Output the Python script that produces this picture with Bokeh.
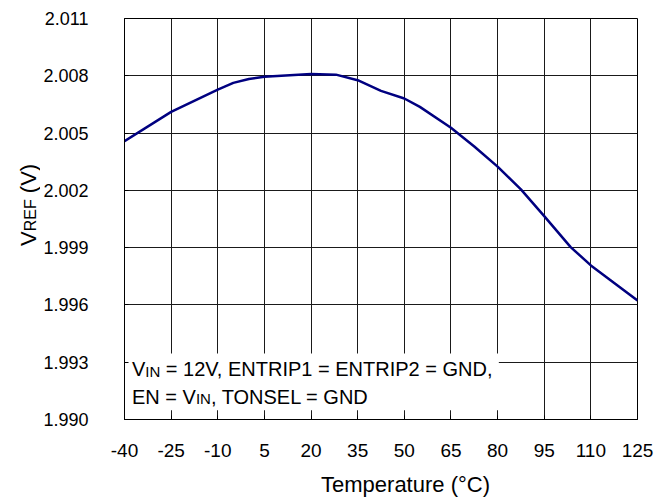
import math
from bokeh.plotting import figure
from bokeh.models import Range1d, FixedTicker, Label
from bokeh.layouts import row, column
from bokeh.embed import file_html
from bokeh.resources import INLINE

# ---- data ----
temps = [-40, -25, -10, -5, 0, 5, 20, 28, 35, 42.5, 50, 55, 65, 72.5, 80, 87.5, 95, 103.5, 110, 125]
vref = [2.00458, 2.00611, 2.00728, 2.00763, 2.00783, 2.00795, 2.00809, 2.00806, 2.00777, 2.00721,
        2.00681, 2.00637, 2.00528, 2.00430, 2.00324, 2.00205, 2.00065, 1.99903, 1.99807, 1.99623]
x_ticks = [-40, -25, -10, 5, 20, 35, 50, 65, 80, 95, 110, 125]
x_tick_labels = ["-40", "-25", "-10", "5", "20", "35", "50", "65", "80", "95", "110", "125"]
y_ticks = [1.990, 1.993, 1.996, 1.999, 2.002, 2.005, 2.008, 2.011]
y_tick_labels = ["1.990", "1.993", "1.996", "1.999", "2.002", "2.005", "2.008", "2.011"]
x_title = "Temperature (°C)"
note_line1 = [("V", False), ("IN", True), (" = 12V, ENTRIP1 = ENTRIP2 = GND,", False)]
note_line2 = [("EN = V", False), ("IN", True), (", TONSEL = GND", False)]
y_title = [("V", False), ("REF", True), (" (V)", False)]

FONT = "Liberation Sans"

# Arial / Liberation Sans advance widths (per 1000 em)
W = {' ': 278, '=': 584, ',': 278, '.': 278, 'V': 667, 'E': 667, 'N': 722, 'T': 611, 'R': 722,
     'I': 278, 'P': 667, 'G': 778, 'D': 722, 'S': 667, 'O': 778, 'L': 556, 'F': 611, '(': 333,
     ')': 333, 'C': 722}


def tw(s, size):
    return sum(W.get(c, 556) for c in s) * size / 1000.0


def blank_fig(w, h):
    f = figure(width=w, height=h, output_backend="svg", toolbar_location=None, title=None,
               x_range=Range1d(0, w), y_range=Range1d(0, h),
               x_axis_location=None, y_axis_location=None,
               min_border_left=0, min_border_right=0, min_border_top=0, min_border_bottom=0)
    f.outline_line_color = None
    f.xgrid.visible = False
    f.ygrid.visible = False
    f.background_fill_color = "white"
    f.border_fill_color = "white"
    return f


# ---- main chart ----
p = figure(width=616, height=470, output_backend="svg", toolbar_location=None,
           x_range=Range1d(-40, 125), y_range=Range1d(1.990, 2.011),
           min_border_left=82, min_border_right=19, min_border_top=18, min_border_bottom=51)

p.outline_line_color = "black"
p.outline_line_width = 1
p.background_fill_color = "white"
p.border_fill_color = "white"

for g in (p.xgrid, p.ygrid):
    g.grid_line_color = "#1a1a1a"
    g.grid_line_width = 1
p.xgrid.ticker = FixedTicker(ticks=x_ticks)
p.ygrid.ticker = FixedTicker(ticks=y_ticks)

p.xaxis.ticker = FixedTicker(ticks=x_ticks)
p.yaxis.ticker = FixedTicker(ticks=y_ticks)
p.xaxis.major_label_overrides = {t: l for t, l in zip(x_ticks, x_tick_labels)}
p.yaxis.major_label_overrides = {t: l for t, l in zip(y_ticks, y_tick_labels)}
for ax in (p.xaxis, p.yaxis):
    ax.axis_line_color = "black"
    ax.major_tick_in = 4
    ax.major_tick_out = 0
    ax.minor_tick_line_color = None
    ax.major_tick_line_color = "black"
    ax.major_label_text_font = FONT
    ax.major_label_text_color = "black"
p.xaxis.major_label_text_font_size = "19px"
p.yaxis.major_label_text_font_size = "18px"
p.xaxis.major_label_standoff = 24
p.yaxis.major_label_standoff = 36

# white background behind the conditions note
p.quad(left=[-40], right=[80.4], bottom=[1.99048], top=[1.99345],
       fill_color="white", line_color=None)

# curve
p.line(temps, vref, line_color="#000080", line_width=2.5)


def add_pieces(fig, pieces, x, y, size, sub_size, angle=0.0, sub_shift=2, center=False):
    """Lay text pieces (some subscripted) one after another along the text direction."""
    sizes = [sub_size if sub else size for _, sub in pieces]
    total = sum(tw(t, s) for (t, _), s in zip(pieces, sizes))
    off = -total / 2 if center else 0.0
    vertical = abs(angle) > 0.1
    for (txt, sub), fs in zip(pieces, sizes):
        lead = len(txt) - len(txt.lstrip(' '))
        off += tw(' ' * lead, fs)
        body = txt.lstrip(' ')
        if vertical:
            xo, yo = (sub_shift if sub else 0), off
        else:
            xo, yo = off, (-sub_shift if sub else 0)
        fig.add_layout(Label(x=x, y=y, x_offset=xo, y_offset=yo, text=body, angle=angle,
                             text_font=FONT, text_font_size=f"{fs}px", text_color="black",
                             text_align="left", text_baseline="alphabetic"))
        off += tw(body, fs)


# conditions note
add_pieces(p, note_line1, -37.6, 1.99262, 20, 15)
add_pieces(p, note_line2, -37.6, 1.99118, 20, 15)

# ---- y axis title (rotated, with subscript) in a narrow side figure ----
yf = blank_fig(40, 470)
add_pieces(yf, y_title, 28, 470 - 218.5, 22, 16, angle=math.pi / 2, center=True)

# ---- x axis title in a strip below ----
xf = blank_fig(656, 29)
xf.add_layout(Label(x=405, y=15, text=x_title, text_font=FONT, text_font_size="22px",
                    text_color="black", text_align="center", text_baseline="alphabetic"))

layout = column(row(yf, p, spacing=0), xf, spacing=0)
open("out.html", "w").write(file_html(layout, INLINE))
